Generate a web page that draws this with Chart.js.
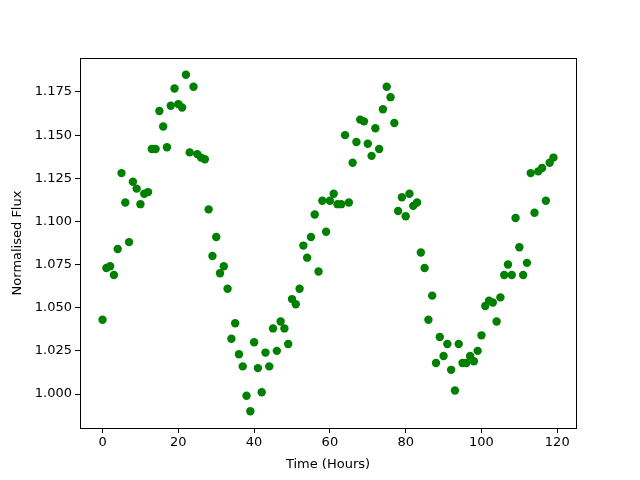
<!DOCTYPE html>
<html>
<head>
<meta charset="utf-8">
<script src="https://cdn.jsdelivr.net/npm/chart.js@4.4.0/dist/chart.umd.min.js"></script>
<style>
    html, body { margin: 0; padding: 0; background: #fff; }
    #wrap { width: 640px; height: 480px; }
</style>
</head>
<body>
<div id="wrap"><canvas id="fluxChart" width="640" height="480"></canvas></div>
<script>
// 時間 (小時) 與歸一化通量
const hours = [];
for (let h = 0; h < 120; h++) hours.push(h);

const flux = [
    1.043, 1.073, 1.074, 1.069, 1.084, 1.128, 1.111, 1.088, 1.123, 1.119,
    1.110, 1.116, 1.117, 1.142, 1.142, 1.164, 1.155, 1.143, 1.167, 1.177,
    1.168, 1.166, 1.185, 1.140, 1.178, 1.139, 1.137, 1.136, 1.107, 1.080,
    1.091, 1.070, 1.074, 1.061, 1.032, 1.041, 1.023, 1.016, 0.999, 0.990,
    1.030, 1.015, 1.001, 1.024, 1.016, 1.038, 1.025, 1.042, 1.038, 1.029,
    1.055, 1.052, 1.061, 1.086, 1.079, 1.091, 1.104, 1.071, 1.112, 1.094,
    1.112, 1.116, 1.110, 1.110, 1.150, 1.111, 1.134, 1.146, 1.159, 1.158,
    1.145, 1.138, 1.154, 1.142, 1.165, 1.178, 1.172, 1.157, 1.106, 1.114,
    1.103, 1.116, 1.109, 1.111, 1.082, 1.073, 1.043, 1.057, 1.018, 1.033,
    1.022, 1.029, 1.014, 1.002, 1.029, 1.018, 1.018, 1.022, 1.019, 1.025,
    1.034, 1.051, 1.054, 1.053, 1.042, 1.056, 1.069, 1.075, 1.069, 1.102,
    1.085, 1.069, 1.076, 1.128, 1.105, 1.129, 1.131, 1.112, 1.134, 1.137
];

const xTicks = [0, 20, 40, 60, 80, 100, 120];
const yTicks = [1.000, 1.025, 1.050, 1.075, 1.100, 1.125, 1.150, 1.175];

// 四周黑框 (matplotlib 風格)
const frame = {
    id: 'frame',
    afterDraw(chart) {
        const a = chart.chartArea;
        const ctx = chart.ctx;
        ctx.save();
        ctx.strokeStyle = '#000';
        ctx.lineWidth = 1;
        ctx.strokeRect(a.left + 0.5, a.top + 0.5, a.right - a.left, a.bottom - a.top);
        ctx.restore();
    }
};

Chart.defaults.font.family = 'DejaVu Sans';
Chart.defaults.font.size = 13;
Chart.defaults.color = '#000';

new Chart(document.getElementById('fluxChart'), {
    type: 'scatter',
    data: {
        datasets: [{
            data: hours.map((h, i) => ({ x: h, y: flux[i] })),
            backgroundColor: '#008000',
            borderColor: '#008000',
            pointRadius: 4.2,
            pointHoverRadius: 4.2,
            borderWidth: 0
        }]
    },
    options: {
        responsive: false,
        animation: false,
        layout: { padding: { left: 0, top: 58, right: 64, bottom: 0 } },
        plugins: { legend: { display: false }, tooltip: { enabled: false } },
        scales: {
            x: {
                type: 'linear',
                min: -5.95,
                max: 124.95,
                afterBuildTicks: s => { s.ticks = xTicks.map(v => ({ value: v })); },
                afterFit: s => { s.height = 52; },
                grid: { drawOnChartArea: false, drawTicks: true, tickLength: 5, color: '#000' },
                border: { display: true, color: '#000' },
                ticks: { padding: 2, callback: v => v },
                title: { display: true, text: 'Time (Hours)', padding: { top: 2, bottom: 8 } }
            },
            y: {
                min: 0.9803,
                max: 1.1947,
                afterBuildTicks: s => { s.ticks = yTicks.map(v => ({ value: v })); },
                afterFit: s => { s.width = 80; },
                grid: { drawOnChartArea: false, drawTicks: true, tickLength: 5, color: '#000' },
                border: { display: true, color: '#000' },
                ticks: { padding: 3, callback: v => Number(v).toFixed(3) },
                title: { display: true, text: 'Normalised Flux', padding: { top: 10, bottom: 10 } }
            }
        }
    },
    plugins: [frame]
});
</script>
</body>
</html>
